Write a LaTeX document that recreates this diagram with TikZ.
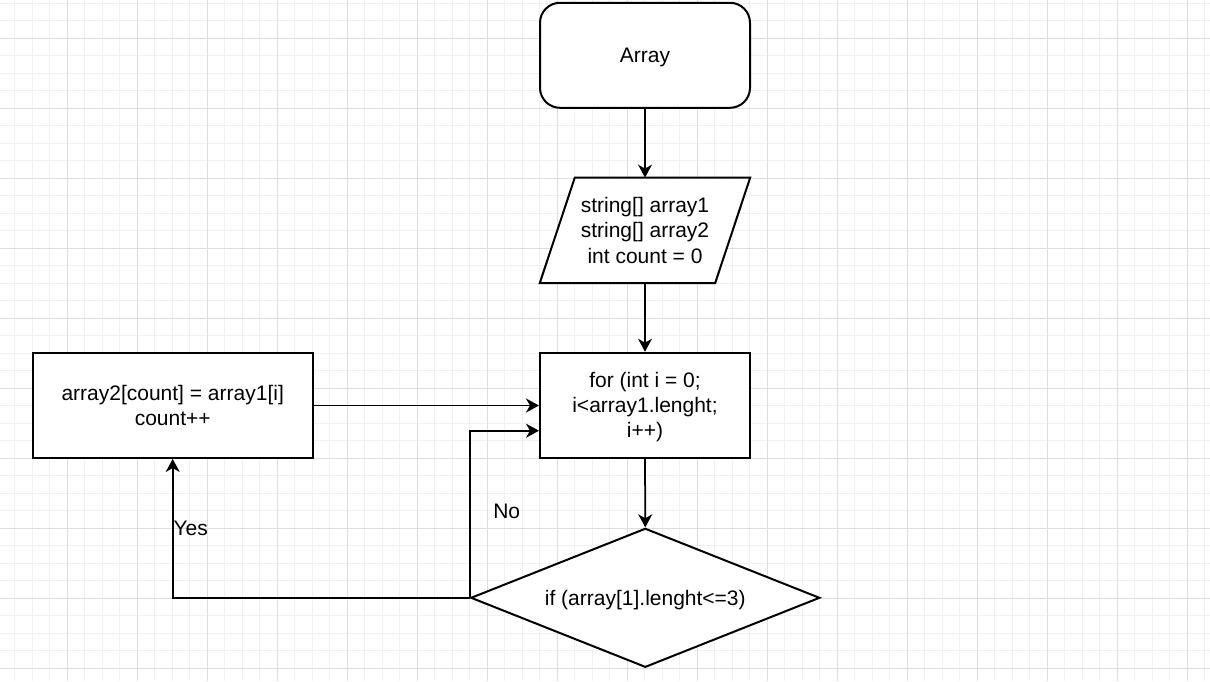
\documentclass[tikz,border=0pt]{standalone}
\usepackage{fontspec}
\setmainfont{Liberation Sans}
\usetikzlibrary{shapes.geometric,arrows.meta,calc}
\definecolor{gmajor}{RGB}{222,222,222}
\definecolor{gminor}{RGB}{241,241,241}
\newcommand\mltext[1]{\raisebox{-2.5pt}[\height][\depth]{\begin{tabular}{@{}c@{}}#1\end{tabular}}}
\begin{document}
\begin{tikzpicture}[x=1pt,y=-1pt,
  txt/.style={font=\fontsize{21}{25.2}\selectfont, inner sep=0pt},
  box/.style={txt, draw=black, line width=2pt, fill=white, minimum width=280pt, minimum height=105pt},
  flow/.style={line width=1.75pt, -{Stealth[length=13pt,width=14pt,inset=4pt]}},
  line/.style={line width=2pt},
  gridmin/.style={draw=gminor, line width=1pt},
  gridmaj/.style={draw=gmajor, line width=1pt}]
\useasboundingbox (0,0) rectangle (1210,681);
\fill[white] (0,0) rectangle (1210,681);
% grid
\foreach \k in {0,...,69} {
  \pgfmathsetmacro\xx{-2.7+17.5*\k}
  \draw[gridmin] (\xx,0) -- (\xx,681);
}
\foreach \k in {0,...,40} {
  \pgfmathsetmacro\yy{-31.7+17.5*\k}
  \draw[gridmin] (0,\yy) -- (1210,\yy);
}
\foreach \k in {0,...,18} {
  \pgfmathsetmacro\xx{-2.7+70*\k}
  \draw[gridmaj] (\xx,0) -- (\xx,681);
}
\foreach \k in {0,...,10} {
  \pgfmathsetmacro\yy{-31.7+70*\k}
  \draw[gridmaj] (0,\yy) -- (1210,\yy);
}
% nodes
\node[box, minimum width=210pt, rounded corners=20pt] (start) at (645,55.3) {\mltext{Array}};
\node[txt, minimum width=210pt, minimum height=105pt] (inp) at (645,230.3) {};
\draw[line, fill=white] (inp.south west) -- ($(inp.south east)+(-35,0)$) -- (inp.north east) -- ($(inp.north west)+(35,0)$) -- cycle;
\node[txt] (inptext) at (inp.center) {\mltext{string[] array1\\string[] array2\\int count = 0}};
\node[box, minimum width=210pt] (loop) at (645,405.2) {\mltext{for (int i = 0;\\i<array1.lenght;\\i++)}};
\node[box] (body) at (172.7,405.5) {\mltext{array2[count] = array1[i]\\count++}};
\node[txt, shape=diamond, aspect=2.5, draw=black, line width=2pt, fill=white, minimum width=349pt, minimum height=139pt] (cond) at (645.3,597.8) {\mltext{if (array[1].lenght<=3)}};
\coordinate (noend) at ($(loop.west)+(0,25.5)$);
% connectors
\draw[flow] (start.south) -- (inp.north);
\draw[flow] (inp.south) -- (loop.north);
\draw[flow] (loop.south) -- (cond.north);
\draw[flow] (body.east) -- (body.east -| loop.west);
\draw[flow] (cond.west) |- (noend);
\draw[flow] (cond.west) -| (body.south);
% labels
\node[txt] (nolab) at (506.7,511.7) {No};
\node[txt] (yeslab) at (190.7,528.3) {Yes};
\end{tikzpicture}
\end{document}
